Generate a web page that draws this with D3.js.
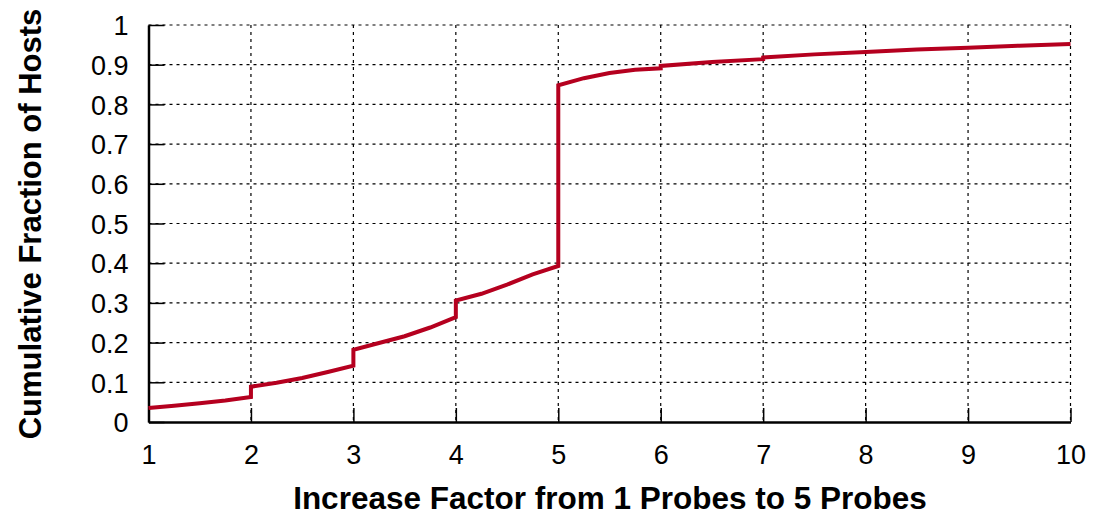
<!DOCTYPE html>
<html>
<head>
<meta charset="utf-8">
<script src="https://cdn.jsdelivr.net/npm/d3@7"></script>
<style>
    body { margin: 0; background: #fff; }
    text { font-family: "Liberation Sans", Arial, Helvetica, sans-serif; }
</style>
</head>
<body>
<div id="chart-area"></div>
<script>
// data: CDF of increase factor
// each step at an integer x is a repeated x with the value before and after the jump
const factors = [1, 1.25, 1.5, 1.75, 2, 2, 2.25, 2.5, 2.75, 3, 3, 3.25, 3.5, 3.75, 4,
    4, 4.25, 4.5, 4.75, 5, 5, 5.25, 5.5, 5.75, 6, 6, 6.5, 7, 7, 7.5, 8, 8.5, 9, 9.5, 10];
const fractions = [0.035, 0.041, 0.047, 0.054, 0.063, 0.089, 0.099, 0.111, 0.126, 0.142,
    0.182, 0.199, 0.216, 0.238, 0.264, 0.306, 0.323, 0.346, 0.372, 0.393,
    0.848, 0.866, 0.879, 0.887, 0.891, 0.897, 0.907, 0.914, 0.918, 0.926,
    0.932, 0.938, 0.943, 0.948, 0.952];
const xTicks = [1, 2, 3, 4, 5, 6, 7, 8, 9, 10];
const yTicks = [0, 0.1, 0.2, 0.3, 0.4, 0.5, 0.6, 0.7, 0.8, 0.9, 1];

// margins
const margin = {
    left: 148.5,
    right: 28.5,
    top: 25,
    bottom: 94
};

const width = 1099 - margin.left - margin.right;
const height = 516 - margin.top - margin.bottom;

const svg = d3.select('#chart-area')
    .append('svg')
        .attr('width', 1099)
        .attr('height', 516);

const g = svg.append('g')
    .attr('transform', `translate(${margin.left}, ${margin.top})`);

const x = d3.scaleLinear()
    .domain([1, 10])
    .range([0, width]);

const y = d3.scaleLinear()
    .domain([0, 1])
    .range([height, 0]);

// dotted grid
g.append('g')
    .attr('class', 'grid')
    .selectAll('line.gx')
    .data(xTicks.slice(1))
    .enter()
        .append('line')
            .attr('x1', d => x(d))
            .attr('x2', d => x(d))
            .attr('y1', 0)
            .attr('y2', height);

g.select('.grid')
    .selectAll('line.gy')
    .data(yTicks.slice(1))
    .enter()
        .append('line')
            .attr('x1', 0)
            .attr('x2', width)
            .attr('y1', d => y(d))
            .attr('y2', d => y(d));

g.selectAll('.grid line')
    .attr('stroke', '#000')
    .attr('stroke-width', 1.2)
    .attr('stroke-dasharray', '3,4');

// axes, ticks pointing inward
const xAxisCall = d3.axisBottom(x)
    .tickValues(xTicks)
    .tickSizeInner(-14)
    .tickSizeOuter(0)
    .tickPadding(23)
    .tickFormat(d3.format('d'));
const xAxis = g.append('g')
    .attr('class', 'x axis')
    .attr('transform', `translate(0, ${height})`)
    .call(xAxisCall);

const yAxisCall = d3.axisLeft(y)
    .tickValues(yTicks)
    .tickSizeInner(-16)
    .tickSizeOuter(0)
    .tickPadding(20)
    .tickFormat(d => d === 0 || d === 1 ? d : d.toFixed(1));
const yAxis = g.append('g')
    .attr('class', 'y axis')
    .call(yAxisCall);

g.selectAll('.axis .domain')
    .attr('stroke-width', 2.5);
g.selectAll('.axis .tick line')
    .attr('stroke-width', 1.5);
g.selectAll('.axis text')
    .attr('font-size', '27px')
    .attr('fill', '#000')
    .attr('font-family', '"Liberation Sans", Arial, sans-serif');
xAxis.selectAll('text').attr('dy', '0.71em');
yAxis.selectAll('text').attr('dy', '0.36em');

// CDF line
const points = factors.map((f, i) => [f, fractions[i]]);
const line = d3.line()
    .x(d => x(d[0]))
    .y(d => y(d[1]));

g.append('path')
    .datum(points)
    .attr('fill', 'none')
    .attr('stroke', '#b5001f')
    .attr('stroke-width', 4)
    .attr('stroke-linejoin', 'miter')
    .attr('d', line);

// x label
svg.append('text')
    .attr('x', 610)
    .attr('y', 509)
    .attr('font-size', '31.5px')
    .attr('font-weight', 'bold')
    .attr('text-anchor', 'middle')
    .text('Increase Factor from 1 Probes to 5 Probes');

// y label
svg.append('text')
    .attr('transform', 'translate(41, 224) rotate(-90)')
    .attr('font-size', '31px')
    .attr('font-weight', 'bold')
    .attr('text-anchor', 'middle')
    .text('Cumulative Fraction of Hosts');
</script>
</body>
</html>
